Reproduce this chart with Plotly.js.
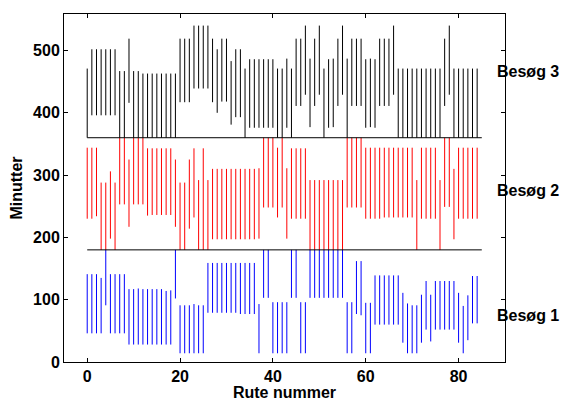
<!DOCTYPE html>
<html>
<head>
<meta charset="utf-8">
<script src="https://cdn.plot.ly/plotly-3.0.1.min.js"></script>
<style>
html,body{margin:0;padding:0;background:#fff;}
#chart{width:561px;height:401px;}
</style>
</head>
<body>
<div id="chart"></div>
<script>
// Route numbers 0..84
const routes = [0,1,2,3,4,5,6,7,8,9,10,11,12,13,14,15,16,17,18,19,20,21,22,23,24,25,26,27,28,29,30,31,32,33,34,35,36,37,38,39,40,41,42,43,44,45,46,47,48,49,50,51,52,53,54,55,56,57,58,59,60,61,62,63,64,65,66,67,68,69,70,71,72,73,74,75,76,77,78,79,80,81,82,83,84];

// Besøg 1 (blue): lower / upper end of each segment (minutes)
const lo1 = [46,46,46,46,91,46,46,46,46,28,28,28,28,28,28,28,28,28,28,102,14,14,14,14,14,14,79,79,79,79,79,79,79,77,77,77,77,14,103,103,14,14,14,14,103,103,14,14,103,103,103,103,103,103,103,103,14,14,77,75,14,14,60,60,60,60,60,60,31,14,14,14,31,52,33,52,52,52,52,52,31,14,35,62,62];
const hi1 = [141,141,141,135,180,141,141,141,141,117,117,118,117,117,117,117,117,114,115,180,91,91,91,93,91,91,159,159,159,159,159,159,159,159,159,159,159,93,180,180,96,96,96,96,180,180,96,96,180,180,180,180,180,180,180,180,96,96,162,162,95,95,139,139,139,139,139,139,111,94,91,91,108,130,108,130,130,130,130,130,111,90,107,138,138];

// Besøg 2 (red)
const lo2 = [230,230,234,180,180,198,180,253,253,217,253,253,253,235,236,236,236,236,236,217,180,180,214,232,180,180,180,197,197,197,197,197,197,197,197,197,197,198,248,248,248,232,248,198,230,230,230,230,180,180,180,180,180,180,180,180,248,248,248,248,230,230,230,230,232,232,232,232,232,232,232,180,230,230,230,230,180,249,249,197,230,230,230,230,230];
const hi2 = [344,344,344,288,288,306,288,360,360,325,360,360,360,343,343,343,343,343,343,325,288,288,325,343,292,343,292,310,310,310,310,310,310,310,310,310,310,311,360,360,360,344,360,311,343,343,343,343,292,292,292,292,292,292,292,292,360,360,360,360,344,344,344,344,344,344,344,344,344,344,344,292,344,344,344,344,292,360,360,310,344,344,344,344,344];

// Besøg 3 (black)
const lo3 = [360,396,396,396,396,396,396,360,360,416,360,360,360,360,360,360,360,360,360,360,417,417,417,439,439,439,439,417,400,418,418,381,393,393,360,376,376,376,376,376,376,360,360,376,360,411,411,429,377,411,429,360,376,377,411,429,360,411,411,411,376,377,376,411,411,411,429,360,360,360,360,360,360,360,360,360,360,411,429,360,360,360,360,360,360];
const hi3 = [471,502,502,502,502,502,502,467,467,519,467,467,463,463,463,463,463,463,463,463,519,519,519,540,540,540,540,519,502,519,519,483,502,502,471,486,486,486,486,486,486,471,471,487,471,519,519,540,487,519,540,471,486,487,519,540,487,519,519,519,486,487,486,519,519,519,540,471,471,471,471,471,471,471,471,471,471,519,540,471,471,471,471,471,471];

// Separator levels between visits and their x extent
const sepLevels = [180, 360];
const sepX = [0, 85];

// Labels
const labels = ["Besøg 1", "Besøg 2", "Besøg 3"];
const labelY = [75, 275, 467];
const labelX = 87.8;

const colors = ["#0000ff", "#ff0000", "#000000"];

function segTrace(lo, hi, color) {
  const x = [], y = [];
  for (let k = 0; k < routes.length; k++) {
    x.push(routes[k], routes[k], null);
    y.push(lo[k], hi[k], null);
  }
  return {x: x, y: y, type: "scatter", mode: "lines", line: {color: color, width: 1}, hoverinfo: "skip", showlegend: false};
}

const traces = [
  segTrace(lo1, hi1, colors[0]),
  segTrace(lo2, hi2, colors[1]),
  segTrace(lo3, hi3, colors[2])
];
sepLevels.forEach(function (lv) {
  traces.push({x: sepX, y: [lv, lv], type: "scatter", mode: "lines", line: {color: "#000000", width: 1}, hoverinfo: "skip", showlegend: false});
});

const font = {family: "Liberation Sans, Arial, Helvetica, sans-serif", size: 16, color: "#000000", weight: "bold"};

const layout = {
  width: 561, height: 401,
  margin: {l: 64, r: 56, t: 14, b: 39},
  paper_bgcolor: "#ffffff", plot_bgcolor: "#ffffff",
  font: font,
  showlegend: false,
  xaxis: {
    range: [-5, 90], tickvals: [0, 20, 40, 60, 80],
    ticks: "inside", ticklen: 4, tickcolor: "#000", tickwidth: 1,
    showline: true, linecolor: "#000", linewidth: 1, mirror: "ticks",
    showgrid: false, zeroline: false,
    tickfont: font,
    title: {text: "<b>Rute nummer</b>", font: font, standoff: 2}
  },
  yaxis: {
    range: [0, 558.6], tickvals: [0, 100, 200, 300, 400, 500],
    ticks: "inside", ticklen: 4, tickcolor: "#000", tickwidth: 1,
    showline: true, linecolor: "#000", linewidth: 1, mirror: "ticks",
    showgrid: false, zeroline: false,
    tickfont: font,
    title: {text: "<b>Minutter</b>", font: font, standoff: 6}
  },
  annotations: labels.map(function (t, k) {
    return {x: labelX, y: labelY[k], xref: "x", yref: "y", text: "<b>" + t + "</b>", showarrow: false, xanchor: "left", yanchor: "middle", font: font};
  })
};

Plotly.newPlot("chart", traces, layout, {displayModeBar: false, staticPlot: true});
</script>
</body>
</html>
